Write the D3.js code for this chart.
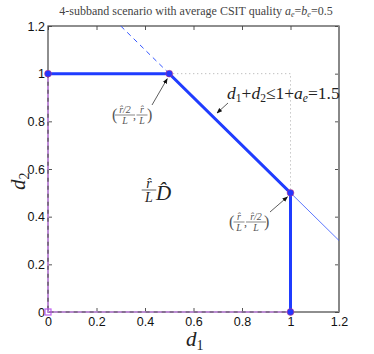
<!DOCTYPE html>
<html>
<head>
<meta charset="utf-8">
<script src="https://cdn.jsdelivr.net/npm/d3@7"></script>
<style>
  body { margin: 0; background: #fff; }
  text { font-family: "Liberation Sans", Arial, sans-serif; }
  .serif { font-family: "Liberation Serif", "DejaVu Serif", serif; }
</style>
</head>
<body>
<svg width="374" height="354"></svg>
<script>
// chart values
var xTicks = [0, 0.2, 0.4, 0.6, 0.8, 1, 1.2];
var yTicks = [0, 0.2, 0.4, 0.6, 0.8, 1, 1.2];
var regionD1 = [0, 0.5, 1, 1];
var regionD2 = [1, 1, 0.5, 0];
var extUpD1 = [0.3, 0.5];
var extUpD2 = [1.2, 1];
var extDownD1 = [1, 1.2];
var extDownD2 = [0.5, 0.3];
var cornerD1 = [0.5, 1, 1];
var cornerD2 = [1, 1, 0.5];
var axisD1 = [0, 0, 1];
var axisD2 = [1, 0, 0];

var svg = d3.select("svg");
var margin = {left: 48, right: 35, top: 26, bottom: 42};
var W = 374, H = 354;

var x = d3.scaleLinear().domain([0, 1.2]).range([margin.left, W - margin.right]);
var y = d3.scaleLinear().domain([0, 1.2]).range([H - margin.bottom, margin.top]);

function pts(a, b) { return a.map(function(v, i) { return [v, b[i]]; }); }
var line = d3.line().x(function(d) { return x(d[0]); }).y(function(d) { return y(d[1]); });

// axes box
var tickLen = 4;
svg.append("g").attr("transform", "translate(0," + y(0) + ")")
  .call(d3.axisBottom(x).tickValues(xTicks).tickSize(-tickLen).tickPadding(5).tickFormat(d3.format("~g")))
  .call(function(g) { g.select(".domain").remove(); g.selectAll("text").attr("font-size", 12.5).attr("fill", "#111"); g.selectAll("line").attr("stroke", "#555"); });
svg.append("g").attr("transform", "translate(" + x(0) + ",0)")
  .call(d3.axisLeft(y).tickValues(yTicks).tickSize(-tickLen).tickPadding(3).tickFormat(d3.format("~g")))
  .call(function(g) { g.select(".domain").remove(); g.selectAll("text").attr("font-size", 12.5).attr("fill", "#111"); g.selectAll("line").attr("stroke", "#555"); });
svg.append("g").attr("transform", "translate(0," + y(1.2) + ")")
  .call(d3.axisTop(x).tickValues(xTicks).tickSize(-tickLen).tickFormat(""))
  .call(function(g) { g.select(".domain").remove(); g.selectAll("line").attr("stroke", "#555"); });
svg.append("g").attr("transform", "translate(" + x(1.2) + ",0)")
  .call(d3.axisRight(y).tickValues(yTicks).tickSize(-tickLen).tickFormat(""))
  .call(function(g) { g.select(".domain").remove(); g.selectAll("line").attr("stroke", "#555"); });

svg.append("rect")
  .attr("x", x(0)).attr("y", y(1.2))
  .attr("width", x(1.2) - x(0)).attr("height", y(0) - y(1.2))
  .attr("fill", "none").attr("stroke", "#444").attr("stroke-width", 1.2);
svg.append("line").attr("x1", x(1.2)).attr("x2", x(1.2)).attr("y1", y(1.2)).attr("y2", y(0))
  .attr("stroke", "#888").attr("stroke-width", 2);

// dotted corner
svg.append("path").attr("d", line(pts(cornerD1, cornerD2)))
  .attr("fill", "none").attr("stroke", "#aaa").attr("stroke-width", 1).attr("stroke-dasharray", "1,3");

// axes part of region (purple + dashed gray)
svg.append("path").attr("d", line(pts(axisD1, axisD2)))
  .attr("fill", "none").attr("stroke", "#c98ae8").attr("stroke-width", 1.6);
svg.append("path").attr("d", line(pts(axisD1, axisD2)))
  .attr("fill", "none").attr("stroke", "#555").attr("stroke-width", 1.2).attr("stroke-dasharray", "4,4");
svg.append("rect").attr("x", x(0) - 3).attr("y", y(0) - 3).attr("width", 6).attr("height", 6)
  .attr("fill", "none").attr("stroke", "#c060f0").attr("stroke-width", 1.2);

// extension lines
svg.append("path").attr("d", line(pts(extUpD1, extUpD2)))
  .attr("fill", "none").attr("stroke", "#3355ff").attr("stroke-width", 1).attr("stroke-dasharray", "5,4");
svg.append("path").attr("d", line(pts(extDownD1, extDownD2)))
  .attr("fill", "none").attr("stroke", "#3355ff").attr("stroke-width", 0.8);

// region boundary
var region = pts(regionD1, regionD2);
svg.append("path").attr("d", line(region))
  .attr("fill", "none").attr("stroke", "#1f3cff").attr("stroke-width", 3);
svg.selectAll("circle.mk").data(region).enter().append("circle")
  .attr("class", "mk")
  .attr("cx", function(d) { return x(d[0]); }).attr("cy", function(d) { return y(d[1]); })
  .attr("r", 3.4).attr("fill", "#2536ff").attr("stroke", "#d8306a").attr("stroke-width", 0.5);

// title
var title = svg.append("text").attr("class", "serif").attr("x", 196).attr("y", 15)
  .attr("text-anchor", "middle").attr("font-size", 12).attr("fill", "#444");
title.append("tspan").text("4-subband scenario with average CSIT quality ");
title.append("tspan").attr("font-style", "italic").text("a");
title.append("tspan").attr("font-style", "italic").attr("font-size", 8).attr("dy", 2).text("e");
title.append("tspan").attr("dy", -2).text("=");
title.append("tspan").attr("font-style", "italic").text("b");
title.append("tspan").attr("font-style", "italic").attr("font-size", 8).attr("dy", 2).text("e");
title.append("tspan").attr("dy", -2).text("=0.5");

// axis labels
var xl = svg.append("text").attr("class", "serif").attr("x", 186).attr("y", 346)
  .attr("font-size", 21).attr("font-style", "italic").attr("fill", "#222");
xl.append("tspan").text("d");
xl.append("tspan").attr("font-style", "normal").attr("font-size", 14).attr("dy", 4).text("1");
var yl = svg.append("text").attr("class", "serif")
  .attr("transform", "translate(25,190) rotate(-90)")
  .attr("font-size", 21).attr("font-style", "italic").attr("fill", "#222");
yl.append("tspan").text("d");
yl.append("tspan").attr("font-style", "normal").attr("font-size", 14).attr("dy", 4).text("2");

// arrow marker
svg.append("defs").append("marker").attr("id", "ah")
  .attr("viewBox", "0 0 10 10").attr("refX", 9).attr("refY", 5)
  .attr("markerWidth", 7).attr("markerHeight", 7).attr("orient", "auto")
  .append("path").attr("d", "M0,1 L10,5 L0,9 Z").attr("fill", "#111");

function arrow(x1, y1, x2, y2) {
  svg.append("line").attr("x1", x1).attr("y1", y1).attr("x2", x2).attr("y2", y2)
    .attr("stroke", "#333").attr("stroke-width", 0.8).attr("marker-end", "url(#ah)");
}

// small fraction helper: draws num over den centred at cx, line at cy
function frac(g, cx, cy, num, den, fs, col) {
  g.append("text").attr("class", "serif").attr("x", cx).attr("y", cy - 2)
    .attr("text-anchor", "middle").attr("font-size", fs).attr("font-style", "italic").attr("fill", col).text(num);
  g.append("text").attr("class", "serif").attr("x", cx).attr("y", cy + fs * 0.85)
    .attr("text-anchor", "middle").attr("font-size", fs).attr("font-style", "italic").attr("fill", col).text(den);
  var w = Math.max(num.length, den.length) * fs * 0.45 + 2;
  g.append("line").attr("x1", cx - w / 2).attr("x2", cx + w / 2).attr("y1", cy).attr("y2", cy)
    .attr("stroke", col).attr("stroke-width", 0.7);
}

function pairLabel(x0, cy, first, second) {
  var g = svg.append("g");
  var col = "#555";
  g.append("text").attr("class", "serif").attr("x", x0).attr("y", cy + 5).attr("font-size", 16).attr("fill", col).text("(");
  var cx1 = x0 + 5 + (first.length > 1 ? 8 : 5);
  frac(g, cx1, cy, first[0] === 1 ? "r\u0302" : "r\u0302/2", "L", 10, col);
  var end1 = cx1 + (first.length > 1 ? 8 : 5);
  g.append("text").attr("class", "serif").attr("x", end1).attr("y", cy + 4).attr("font-size", 12).attr("fill", col).text(",");
  var cx2 = end1 + 4 + (second.length > 1 ? 8 : 5);
  frac(g, cx2, cy, second[0] === 1 ? "r\u0302" : "r\u0302/2", "L", 10, col);
  var end2 = cx2 + (second.length > 1 ? 8 : 5);
  g.append("text").attr("class", "serif").attr("x", end2).attr("y", cy + 5).attr("font-size", 16).attr("fill", col).text(")");
}

// annotation: corner point (r/2L, r/L)
pairLabel(112, 115, [2, 2], [1]);
arrow(152, 105, x(0.5) - 2, y(1) + 5);

// annotation: corner point (r/L, r/2L)
pairLabel(229, 222, [1], [2, 2]);
arrow(270, 212, x(1) - 3, y(0.5) + 4);

// annotation: sum constraint
var sc = svg.append("text").attr("class", "serif").attr("x", 227).attr("y", 99)
  .attr("font-size", 17.5).attr("fill", "#222");
sc.append("tspan").attr("font-style", "italic").text("d");
sc.append("tspan").attr("font-size", 11.5).attr("dy", 3).text("1");
sc.append("tspan").attr("dy", -3).text("+");
sc.append("tspan").attr("font-style", "italic").text("d");
sc.append("tspan").attr("font-size", 11.5).attr("dy", 3).text("2");
sc.append("tspan").attr("dy", -3).text("\u2264");
sc.append("tspan").text("1+");
sc.append("tspan").attr("font-style", "italic").text("a");
sc.append("tspan").attr("font-style", "italic").attr("font-size", 11.5).attr("dy", 3).text("e");
sc.append("tspan").attr("dy", -3).text("=1.5");
arrow(228, 103, 217, 113);

// region label r/L D
var rg = svg.append("g");
frac(rg, 149, 190, "r\u0302", "L", 14, "#222");
rg.append("text").attr("class", "serif").attr("x", 156).attr("y", 200)
  .attr("font-size", 21).attr("font-style", "italic").attr("fill", "#222").text("D\u0302");
</script>
</body>
</html>
